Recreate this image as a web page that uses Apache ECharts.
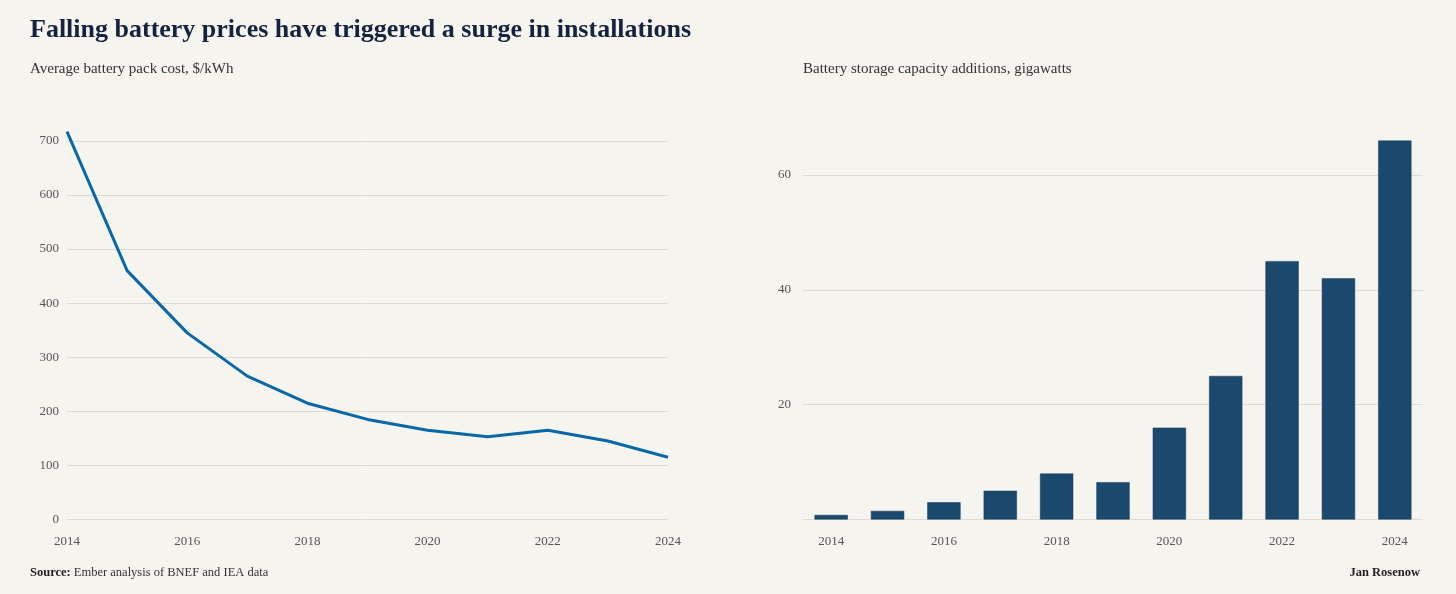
<!DOCTYPE html>
<html>
<head>
<meta charset="utf-8">
<script src="https://cdn.jsdelivr.net/npm/echarts@6/dist/echarts.min.js"></script>
<style>
  html, body { margin: 0; padding: 0; background: #f6f4ef; }
  #chart { width: 1456px; height: 594px; }
</style>
</head>
<body>
<div id="chart"></div>
<script>
// data
var years = ['2014', '2015', '2016', '2017', '2018', '2019', '2020', '2021', '2022', '2023', '2024'];
var packCost = [717, 460, 345, 265, 215, 185, 165, 153, 165, 145, 115];
var storageGW = [0.8, 1.5, 3, 5, 8, 6.5, 16, 25, 45, 42, 66];
var costTicks = [0, 100, 200, 300, 400, 500, 600, 700];
var gwTicks = [0, 20, 40, 60];

var serif = '"Liberation Serif", "DejaVu Serif", serif';
var labelStyle = { fontFamily: serif, fontSize: 13, color: '#555' };

var chart = echarts.init(document.getElementById('chart'));

var option = {
  backgroundColor: '#f6f4ef',
  animation: false,
  title: [
    {
      text: 'Falling battery prices have triggered a surge in installations',
      left: 25, top: 12, padding: 5,
      textStyle: { fontFamily: serif, fontSize: 26, fontWeight: 'bold', color: '#16233f' }
    },
    {
      text: 'Average battery pack cost, $/kWh',
      left: 25, top: 57,
      textStyle: { fontFamily: serif, fontSize: 15, fontWeight: 'normal', color: '#333' }
    },
    {
      text: 'Battery storage capacity additions, gigawatts',
      left: 798, top: 57,
      textStyle: { fontFamily: serif, fontSize: 15, fontWeight: 'normal', color: '#333' }
    },
    {
      text: '{b|Source:} Ember analysis of BNEF and IEA data',
      left: 25, top: 561,
      textStyle: {
        fontFamily: serif, fontSize: 12.5, fontWeight: 'normal', color: '#333',
        rich: { b: { fontFamily: serif, fontSize: 12.5, fontWeight: 'bold', color: '#222' } }
      }
    },
    {
      text: 'Jan Rosenow',
      right: 31, top: 561,
      textStyle: { fontFamily: serif, fontSize: 12.5, fontWeight: 'bold', color: '#222' }
    }
  ],
  grid: [
    { left: 67, right: 788, top: 130, bottom: 74.5 },
    { left: 803, right: 33, top: 117.6, bottom: 74.5 }
  ],
  xAxis: [
    {
      type: 'category', gridIndex: 0, data: years, boundaryGap: false,
      axisLine: { show: false }, axisTick: { show: false },
      axisLabel: Object.assign({ interval: 1, margin: 16 }, labelStyle)
    },
    {
      type: 'category', gridIndex: 1, data: years, boundaryGap: true,
      axisLine: { show: false }, axisTick: { show: false },
      axisLabel: Object.assign({ interval: 1, margin: 16 }, labelStyle)
    }
  ],
  yAxis: [
    {
      type: 'value', gridIndex: 0,
      min: costTicks[0], max: 720, interval: costTicks[1] - costTicks[0],
      axisLine: { show: false }, axisTick: { show: false },
      axisLabel: Object.assign({ margin: 8, showMaxLabel: false }, labelStyle),
      splitLine: { showMaxLine: false, lineStyle: { color: '#dedbd5', width: 1 } }
    },
    {
      type: 'value', gridIndex: 1,
      min: gwTicks[0], max: 70, interval: gwTicks[1] - gwTicks[0],
      axisLine: { show: false }, axisTick: { show: false },
      axisLabel: Object.assign({ margin: 12, showMaxLabel: false, showMinLabel: false }, labelStyle),
      splitLine: { showMaxLine: false, lineStyle: { color: '#dedbd5', width: 1 } }
    }
  ],
  series: [
    {
      name: 'Average battery pack cost',
      type: 'line', xAxisIndex: 0, yAxisIndex: 0,
      data: packCost,
      symbol: 'none',
      lineStyle: { color: '#0a68a8', width: 3 }
    },
    {
      name: 'Battery storage capacity additions',
      type: 'bar', xAxisIndex: 1, yAxisIndex: 1,
      data: storageGW,
      barWidth: '59%',
      itemStyle: { color: '#1b486d', borderColor: '#123a5a', borderWidth: 0.5 }
    }
  ]
};

chart.setOption(option);
</script>
</body>
</html>
